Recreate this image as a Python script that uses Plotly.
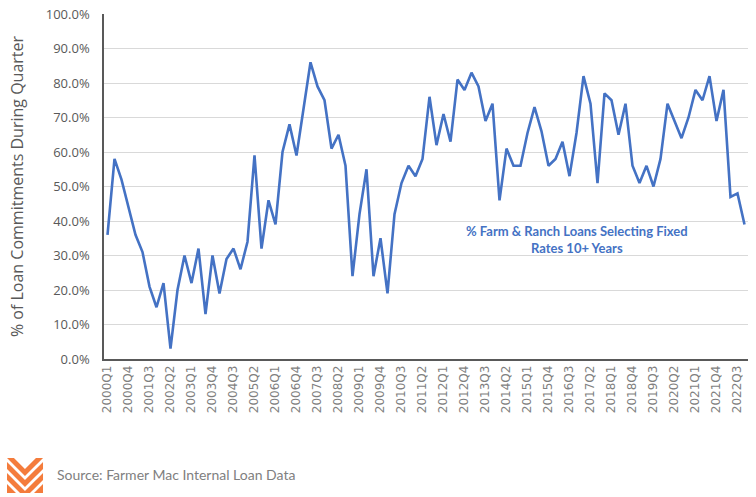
import plotly.graph_objects as go

# quarterly share of loan commitments selecting fixed rates 10+ years (%)
years = list(range(2000, 2023))
quarters = [f"{y}Q{q}" for y in years for q in (1, 2, 3, 4)]

fixed_10y_pct = [
    36, 58, 52, 44, 36, 31, 21, 15, 22, 3,
    20, 30, 22, 32, 13, 30, 19, 29, 32, 26,
    34, 59, 32, 46, 39, 60, 68, 59, 72, 86,
    79, 75, 61, 65, 56, 24, 42, 55, 24, 35,
    19, 42, 51, 56, 53, 58, 76, 62, 71, 63,
    81, 78, 83, 79, 69, 74, 46, 61, 56, 56,
    65.5, 73, 66, 56, 58, 63, 53, 65.5, 82, 74,
    51, 77, 75, 65, 74, 56, 51, 56, 50, 58,
    74, 69, 64, 70, 78, 75, 82, 69, 78, 47,
    48, 39,
]

tick_every = 3
tick_labels = quarters[::tick_every]

W, H = 756, 497
L, R, T, B = 104, 8, 14, 138


def px(x, y):
    # pixel position -> paper coordinates
    return (x - L) / (W - L - R), (H - B - y) / (H - T - B)


def path(points):
    pts = [px(x, y) for x, y in points]
    return "M " + " L ".join(f"{a:.4f},{b:.4f}" for a, b in pts) + " Z"


logo_bands = [
    [(7, 458), (14, 458), (25, 469), (36, 458), (43, 458), (25, 476)],
    [(7, 462), (25, 480), (43, 462), (43, 469), (25, 487), (7, 469)],
    [(7, 473), (25, 491), (43, 473), (43, 480), (30, 493), (20, 493), (7, 480)],
    [(7, 484), (16, 493), (7, 493)],
    [(43, 484), (34, 493), (43, 493)],
]

fig = go.Figure()
fig.add_trace(go.Scatter(
    x=quarters,
    y=[v / 100 for v in fixed_10y_pct],
    mode="lines",
    line=dict(color="#4472C4", width=2.6),
    hoverinfo="x+y",
    showlegend=False,
    cliponaxis=False,
))

shapes = [
    dict(type="path", xref="paper", yref="paper", path=path(b),
         fillcolor="#F47C3C", line=dict(width=0))
    for b in logo_bands
]

ax, ay = px(577, 239)
sx, sy = px(55, 474)

fig.update_layout(
    width=W, height=H,
    margin=dict(l=L, r=R, t=T, b=B),
    paper_bgcolor="white",
    plot_bgcolor="white",
    shapes=shapes,
    xaxis=dict(
        type="category",
        range=[-0.5, len(quarters) - 0.5],
        automargin=False,
        tickmode="array",
        tickvals=tick_labels,
        ticktext=tick_labels,
        tickangle=-90,
        tickfont=dict(family="DejaVu Sans", size=12, color="#7f7f7f"),
        showgrid=False,
        showline=True,
        linecolor="#595959",
        linewidth=1.5,
        ticks="",
    ),
    yaxis=dict(
        range=[0, 1],
        dtick=0.1,
        automargin=False,
        tickformat=".1%",
        tickfont=dict(family="Open Sans", size=13, color="#595959"),
        showgrid=True,
        gridcolor="#d9d9d9",
        gridwidth=1,
        showline=True,
        linecolor="#595959",
        linewidth=1.5,
        zeroline=False,
        ticklabelstandoff=10,
        title=dict(
            text="% of Loan Commitments During Quarter",
            font=dict(family="Open Sans", size=16, color="#595959"),
            standoff=18,
        ),
    ),
    annotations=[
        dict(
            x=ax, y=ay, xref="paper", yref="paper",
            xanchor="center", yanchor="middle",
            text="<b>% Farm & Ranch Loans Selecting Fixed<br>Rates 10+ Years</b>",
            showarrow=False, align="center",
            font=dict(family="Lato", size=13, color="#4472C4"),
        ),
        dict(
            x=sx, y=sy, xref="paper", yref="paper",
            xanchor="left", yanchor="middle",
            text="Source: Farmer Mac Internal Loan Data",
            showarrow=False,
            font=dict(family="Lato", size=14, color="#808080"),
        ),
    ],
)

# drop the default 8px page margin so the figure fills the window exactly
fig.write_html(
    "out.html",
    config={"displayModeBar": False},
    post_script="document.body.style.margin = '0';",
)
